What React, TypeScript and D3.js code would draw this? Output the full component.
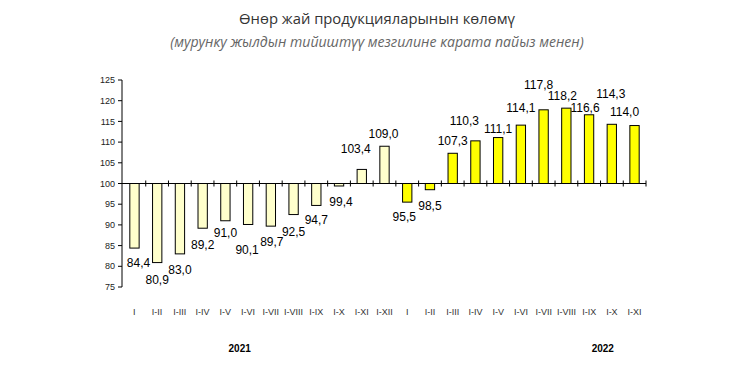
import React from "react";
import * as d3 from "d3";

const categories = [
  "I", "I-II", "I-III", "I-IV", "I-V", "I-VI", "I-VII", "I-VIII", "I-IX", "I-X", "I-XI", "I-XII",
  "I", "I-II", "I-III", "I-IV", "I-V", "I-VI", "I-VII", "I-VIII", "I-IX", "I-X", "I-XI",
];
const values = [
  84.4, 80.9, 83.0, 89.2, 91.0, 90.1, 89.7, 92.5, 94.7, 99.4, 103.4, 109.0,
  95.5, 98.5, 107.3, 110.3, 111.1, 114.1, 117.8, 118.2, 116.6, 114.3, 114.0,
];
const years = ["2021", "2021", "2021", "2021", "2021", "2021", "2021", "2021", "2021", "2021", "2021", "2021",
  "2022", "2022", "2022", "2022", "2022", "2022", "2022", "2022", "2022", "2022", "2022"];
const yTicks = [75, 80, 85, 90, 95, 100, 105, 110, 115, 120, 125];
const yearLabels = ["2021", "2022"];
const title = "Өнөр жай продукцияларынын көлөмү";
const subtitle = "(мурунку жылдын тийиштүү мезгилине карата пайыз менен)";

// label placement nudges (layout only), [dx, dy] in px relative to the default spot
const labelNudges: [number, number][] = [
  [4, -1], [0, 1], [0, 0], [0, 1], [0, -4], [-1, 9], [1, 0], [0, 1], [0, -2], [2, 0], [-6, -7], [-1, 2],
  [-3, -1], [0, 0], [0, 2], [-11, -6], [0, 5], [0, -3], [-5, -11], [-4, 2], [-4, 7], [-1, -16], [-10, 0],
];

export default function App() {
  const W = 750, H = 377;
  const left = 122, right = 646, top = 80, bottom = 287;
  const idx = categories.map((_, i) => String(i));
  const x = d3.scaleBand<string>().domain(idx).range([left + 1, right]).paddingInner(0.59).paddingOuter(0.3);
  const xb = d3.scaleBand<string>().domain(idx).range([left + 1, right]);
  const y = d3.scaleLinear().domain([75, 125]).range([bottom, top]);
  const fmt = (v: number) => v.toFixed(1).replace(".", ",");
  const base = y(100);
  const font = "'Liberation Sans', Arial, sans-serif";
  const yearPos = [4.63, 20.6];

  return (
    <svg width={W} height={H} style={{ position: "absolute", left: 0, top: 0, background: "#fff" }}>
      <text x={377} y={24} textAnchor="middle" fontFamily="'Open Sans', sans-serif" fontSize={14.8} fill="#333">{title}</text>
      <text x={377} y={47} textAnchor="middle" fontFamily="'Open Sans', sans-serif" fontStyle="italic" fontSize={14.1} fill="#666">{subtitle}</text>

      {values.map((v, i) => {
        const x0 = x(String(i))!;
        const y0 = Math.min(y(v), base);
        const h = Math.abs(y(v) - base);
        return (
          <rect key={i} x={x0} y={y0} width={x.bandwidth()} height={h}
            fill={years[i] === "2021" ? "#FFFFCC" : "#FFFF00"} stroke="#000" strokeWidth={1} />
        );
      })}

      {/* y axis */}
      <line x1={left} x2={left} y1={top} y2={bottom} stroke="#000" />
      {yTicks.map((t) => (
        <g key={t}>
          <line x1={left - 4} x2={left} y1={y(t)} y2={y(t)} stroke="#000" />
          <text x={left - 7} y={y(t)} dy="0.35em" textAnchor="end" fontFamily={font} fontSize={9} fill="#222">{t}</text>
        </g>
      ))}

      {/* baseline axis at 100 */}
      <line x1={left} x2={right} y1={base} y2={base} stroke="#000" />
      {idx.map((k) => (
        <line key={k} x1={xb(k)! + xb.bandwidth()} x2={xb(k)! + xb.bandwidth()} y1={base - 3} y2={base + 3} stroke="#000" />
      ))}

      {/* data labels */}
      {values.map((v, i) => {
        const cx = x(String(i))! + x.bandwidth() / 2;
        const up = v >= 100;
        const [ndx, ndy] = labelNudges[i];
        const ly = (up ? y(v) - 14 : y(v) + 16) + ndy;
        return (
          <text key={i} x={cx + ndx} y={ly} dy="0.35em" textAnchor="middle" fontFamily={font} fontSize={12} fill="#000">{fmt(v)}</text>
        );
      })}

      {/* category labels */}
      {categories.map((c, i) => (
        <text key={i} x={xb(String(i))! + xb.bandwidth() / 2} y={312} dy="0.35em" textAnchor="middle"
          fontFamily={font} fontSize={9} fill="#333">{c}</text>
      ))}

      {yearLabels.map((yl, i) => (
        <text key={yl} x={xb.step() * yearPos[i] + left + 1 + xb.bandwidth() / 2} y={348} dy="0.35em" textAnchor="middle"
          fontFamily={font} fontSize={10} fontWeight="bold" fill="#000">{yl}</text>
      ))}
    </svg>
  );
}
